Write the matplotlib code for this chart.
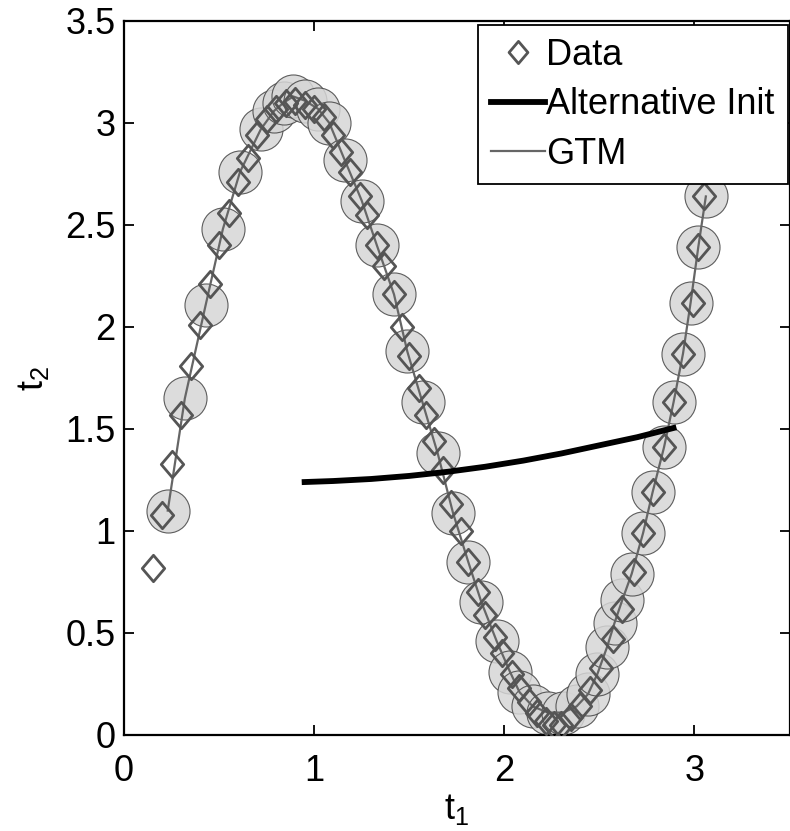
import numpy as np
import matplotlib.pyplot as plt
from matplotlib.path import Path

plt.rcParams['font.family'] = ['Liberation Sans', 'DejaVu Sans']
plt.rcParams['mathtext.fontset'] = 'custom'
plt.rcParams['mathtext.rm'] = 'Liberation Sans'

# Data points (diamonds)
t1_data = [0.15, 0.20, 0.25, 0.30, 0.35, 0.40, 0.45, 0.50, 0.55, 0.60,
           0.65, 0.70, 0.75, 0.80, 0.85, 0.90, 0.95, 1.00, 1.05, 1.10,
           1.14, 1.19, 1.24, 1.28, 1.33, 1.37, 1.42, 1.46, 1.50, 1.55,
           1.59, 1.63, 1.68, 1.72, 1.77, 1.81, 1.86, 1.90, 1.95, 1.99,
           2.04, 2.08, 2.13, 2.17, 2.22, 2.26, 2.30, 2.35, 2.40, 2.45,
           2.51, 2.57, 2.62, 2.68, 2.73, 2.78, 2.84, 2.89, 2.94, 2.99,
           3.02, 3.05]
t2_data = [0.82, 1.08, 1.33, 1.57, 1.81, 2.01, 2.21, 2.40, 2.56, 2.71,
           2.83, 2.94, 3.02, 3.07, 3.10, 3.11, 3.09, 3.07, 3.03, 2.94,
           2.86, 2.76, 2.64, 2.55, 2.40, 2.30, 2.16, 2.00, 1.86, 1.70,
           1.57, 1.44, 1.30, 1.13, 1.00, 0.85, 0.70, 0.59, 0.48, 0.40,
           0.30, 0.23, 0.16, 0.11, 0.07, 0.05, 0.05, 0.09, 0.14, 0.22,
           0.33, 0.47, 0.62, 0.80, 0.99, 1.19, 1.41, 1.63, 1.87, 2.12,
           2.39, 2.64]

# GTM mixture centres (grey circles joined by the GTM line)
t1_gtm = [0.23, 0.32, 0.43, 0.52, 0.61, 0.72, 0.79, 0.84, 0.89, 0.95,
          1.02, 1.08, 1.16, 1.25, 1.33, 1.42, 1.49, 1.57, 1.65, 1.73,
          1.81, 1.88, 1.96, 2.03, 2.08, 2.15, 2.23, 2.31, 2.38, 2.44,
          2.49, 2.54, 2.58, 2.62, 2.67, 2.73, 2.78, 2.84, 2.89, 2.94,
          2.98, 3.02, 3.06]
t2_gtm = [1.10, 1.65, 2.11, 2.48, 2.76, 2.97, 3.06, 3.10, 3.13, 3.11,
          3.07, 3.00, 2.82, 2.62, 2.40, 2.16, 1.88, 1.63, 1.38, 1.09,
          0.85, 0.65, 0.46, 0.31, 0.21, 0.14, 0.11, 0.11, 0.14, 0.20,
          0.30, 0.43, 0.55, 0.66, 0.79, 0.99, 1.19, 1.41, 1.63, 1.87,
          2.12, 2.39, 2.64]

# Alternative initialisation curve
t1_alt = [0.95, 1.10, 1.30, 1.50, 1.70, 1.90, 2.10, 2.30, 2.50, 2.70, 2.89]
t2_alt = [1.24, 1.245, 1.255, 1.27, 1.29, 1.315, 1.345, 1.38, 1.42, 1.46, 1.505]

# wide diamond like the MATLAB marker
diamond = Path([(-0.85, 0), (0, 1), (0.85, 0), (0, -1), (-0.85, 0)],
               [Path.MOVETO, Path.LINETO, Path.LINETO, Path.LINETO, Path.CLOSEPOLY])

fig = plt.figure(figsize=(7.9, 8.31), dpi=100)
ax = fig.add_axes([124 / 790, 96 / 831, 665.5 / 790, 714 / 831])

ax.plot(t1_gtm, t2_gtm, 'o', ms=31, mfc='#d6d6d6', mec='#444444', mew=0.8,
        alpha=0.85, zorder=1)
h_data, = ax.plot(t1_data, t2_data, ls='none', marker=diamond, ms=19,
                  mfc='none', mec='#555555', mew=2.0, zorder=3, label='Data')
h_gtm, = ax.plot(t1_gtm, t2_gtm, '-', color='#666666', lw=1.6, zorder=2,
                 label='GTM')
h_alt, = ax.plot(t1_alt, t2_alt, '-', color='black', lw=4.2, zorder=4,
                 label='Alternative Init')

ax.set_xlim(0, 3.5)
ax.set_ylim(0, 3.5)
ax.set_xticks([0, 1, 2, 3])
ax.set_yticks(np.arange(0, 3.51, 0.5))
ax.set_yticklabels(['0', '0.5', '1', '1.5', '2', '2.5', '3', '3.5'])
ax.tick_params(direction='in', top=True, right=True, labelsize=26,
               length=7, width=1.3, pad=6)
ax.tick_params(axis='x', pad=14)
for s in ax.spines.values():
    s.set_linewidth(1.6)

ax.set_xlabel(r'$\mathregular{t_1}$', fontsize=26, labelpad=2)
ax.set_ylabel(r'$\mathregular{t_2}$', fontsize=26, labelpad=10)

leg = ax.legend([h_data, h_alt, h_gtm], ['Data', 'Alternative Init', 'GTM'],
                loc='upper right', bbox_to_anchor=(0.997, 0.994),
                fontsize=26, handlelength=1.5, handletextpad=0.05,
                labelspacing=0.4, borderpad=0.35, borderaxespad=0,
                fancybox=False, framealpha=1, edgecolor='black')
leg.get_frame().set_linewidth(1.3)
leg.legend_handles[0].set_markersize(16)

fig.savefig('out.png', dpi=100)
